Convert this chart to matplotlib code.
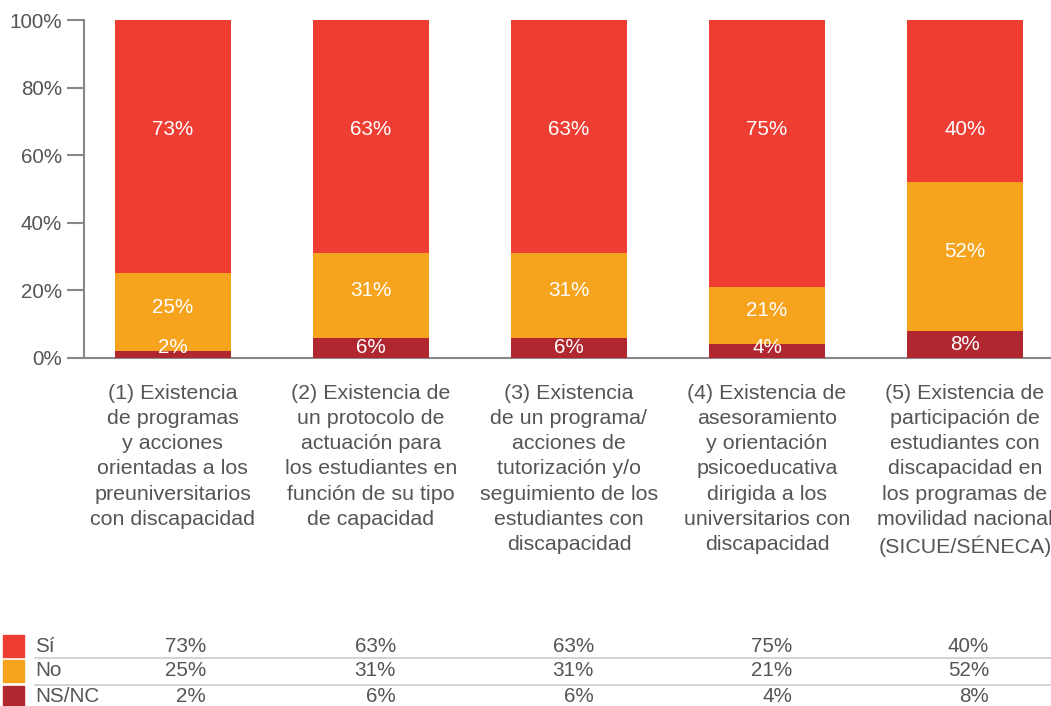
import matplotlib
matplotlib.use('Agg')
import matplotlib.pyplot as plt
import matplotlib.transforms as mtransforms
from matplotlib.patches import Rectangle
from matplotlib.lines import Line2D

plt.rcParams['font.family'] = ['Liberation Sans', 'DejaVu Sans']

# datos
categorias = [
    '(1) Existencia\nde programas\ny acciones\norientadas a los\npreuniversitarios\ncon discapacidad',
    '(2) Existencia de\nun protocolo de\nactuación para\nlos estudiantes en\nfunción de su tipo\nde capacidad',
    '(3) Existencia\nde un programa/\nacciones de\ntutorización y/o\nseguimiento de los\nestudiantes con\ndiscapacidad',
    '(4) Existencia de\nasesoramiento\ny orientación\npsicoeducativa\ndirigida a los\nuniversitarios con\ndiscapacidad',
    '(5) Existencia de\nparticipación de\nestudiantes con\ndiscapacidad en\nlos programas de\nmovilidad nacional\n(SICUE/SÉNECA)',
]
si = [73, 63, 63, 75, 40]
no = [25, 31, 31, 21, 52]
nsnc = [2, 6, 6, 4, 8]
series = ['Sí', 'No', 'NS/NC']

ROJO = '#EE3E34'
NARANJA = '#F6A41E'
GRANATE = '#B0272F'
GRIS = '#555555'
colores = [ROJO, NARANJA, GRANATE]

fig = plt.figure(figsize=(10.51, 7.06), dpi=100)
ax = fig.add_axes([84/1051, 1-358/706, 1-84/1051, (358-20)/706])

x = list(range(len(si)))
total = [a+b+c for a, b, c in zip(si, no, nsnc)]
w = 0.585
# barras superpuestas (como en el original)
ax.bar(x, total, width=w, color=ROJO, zorder=2)
ax.bar(x, no, width=w, color=NARANJA, zorder=3)
ax.bar(x, nsnc, width=w, color=GRANATE, zorder=4)

fs = 14.9
for i in x:
    ax.text(i, 67.5, f'{si[i]}%', ha='center', va='center', color='white', fontsize=fs, zorder=5)
    ax.text(i, (no[i]+nsnc[i])/2 + 1.5, f'{no[i]}%', ha='center', va='center', color='white', fontsize=fs, zorder=5)
    ax.text(i, max(nsnc[i]/2, 3.0), f'{nsnc[i]}%', ha='center', va='center', color='white', fontsize=fs, zorder=5)

ax.set_xlim(-0.449, 4.434)
ax.set_ylim(0, 100)
ax.set_yticks([0, 20, 40, 60, 80, 100])
ax.set_yticklabels([f'{v}%' for v in [0, 20, 40, 60, 80, 100]])
ax.set_xticks([])
ax.tick_params(axis='y', length=12, width=1.5, color='#888888', labelcolor=GRIS, labelsize=fs, pad=4)
for s in ['top', 'right']:
    ax.spines[s].set_visible(False)
for s in ['left', 'bottom']:
    ax.spines[s].set_color('#888888')
    ax.spines[s].set_linewidth(1.5)

trans = mtransforms.blended_transform_factory(ax.transData, ax.transAxes)
for i, c in enumerate(categorias):
    ax.text(i, -0.077, c, transform=trans, ha='center', va='top', color=GRIS,
            fontsize=15.4, linespacing=1.41)

# tabla inferior
filas_y = [646, 671, 697]
col_x = [206, 396, 594, 792, 989]
for r, (nombre, vals, col) in enumerate(zip(series, [si, no, nsnc], colores)):
    yy = 1 - filas_y[r]/706
    fig.patches.append(Rectangle((3/1051, yy - 11/706), 21/1051, 22/706,
                                 transform=fig.transFigure, color=col))
    fig.text(35/1051, yy, nombre, ha='left', va='center', color=GRIS, fontsize=fs)
    for cx, v in zip(col_x, vals):
        fig.text(cx/1051, yy, f'{v}%', ha='right', va='center', color=GRIS, fontsize=fs)
for ly in [658, 685]:
    fig.lines.append(Line2D([35/1051, 1], [1-ly/706]*2, transform=fig.transFigure,
                            color='#cccccc', lw=1.2))

fig.savefig('out.png', dpi=100)
